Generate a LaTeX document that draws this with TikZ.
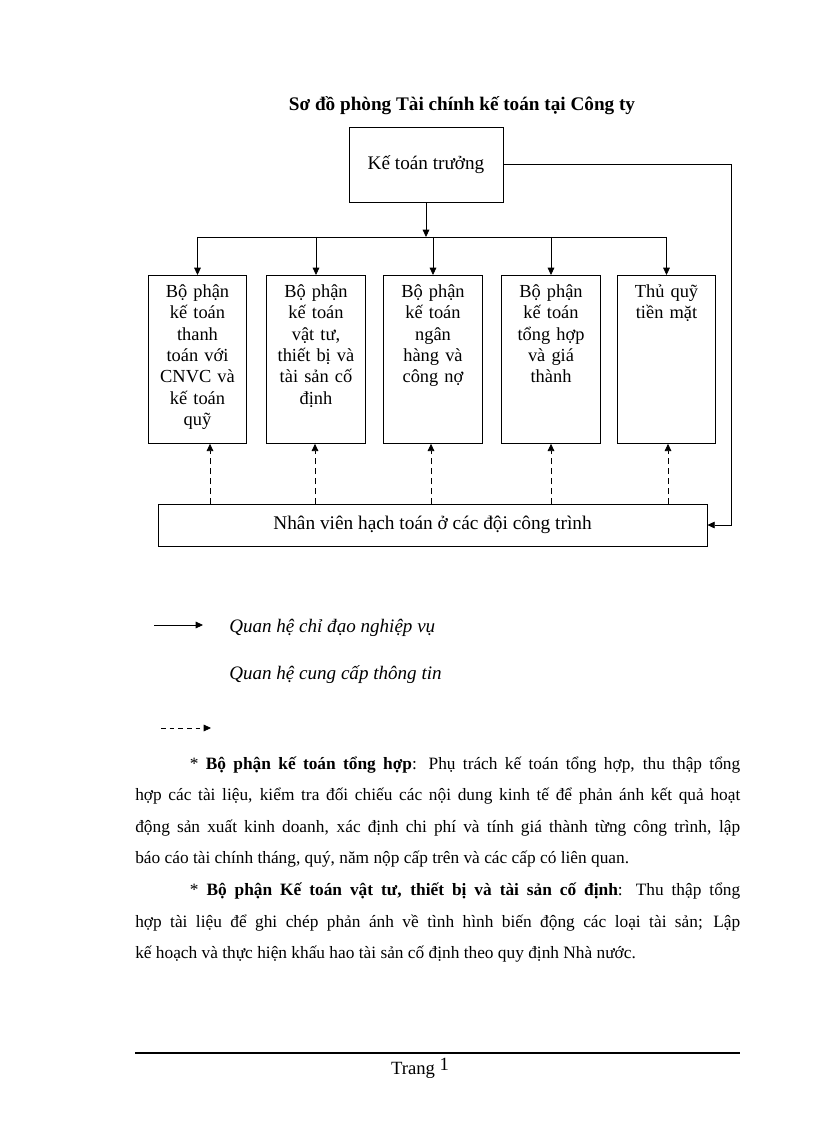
\documentclass[tikz,border=0pt]{standalone}
\usepackage{fontspec}
\setmainfont{Liberation Serif}
\usetikzlibrary{arrows.meta}

\tikzset{
  tip/.style={-{Triangle[length=5.5pt,width=5pt]}},
  lead/.style={draw,line width=0.6pt,tip},
  info/.style={draw,line width=0.6pt,dash pattern=on 4.5pt off 3pt,tip},
  dept/.style={draw,line width=0.6pt,anchor=north,text width=70pt,align=center,
    inner xsep=2pt,inner ysep=6.5pt,text height=10pt,text depth=103pt,
    font=\fontsize{13.8}{16}\selectfont},
  chief/.style={draw,line width=0.6pt,minimum width=115.5pt,minimum height=56.25pt,
    font=\fontsize{14.4}{16}\selectfont},
  staff/.style={draw,line width=0.6pt,minimum width=411.75pt,minimum height=31.5pt,
    font=\fontsize{14.5}{16}\selectfont},
  legendtext/.style={anchor=west,inner sep=0pt,font=\fontsize{14.3}{16}\selectfont\itshape},
  bodytext/.style={anchor=base west,inner sep=0pt,text width=453.75pt,align=justify,
    font=\fontsize{13}{23.7}\selectfont},
}

\begin{document}
\begin{tikzpicture}[x=0.75pt,y=-0.75pt]
  \useasboundingbox (0,0) rectangle (816,1123);
  % title
  \draw (462,106) node[font=\fontsize{14.4}{16}\selectfont\bfseries] (title) {Sơ đồ phòng Tài chính kế toán tại Công ty};
  % real nodes
  \draw (426,164.5) node[chief] (kt) {Kế toán trưởng};
  \draw (197.5,275) node[dept] (b1) {Bộ phận\\kế toán\\thanh\\toán với\\CNVC và\\kế toán\\quỹ};
  \draw (316,275) node[dept] (b2) {Bộ phận\\kế toán\\vật tư,\\thiết bị và\\tài sản cố\\định};
  \draw (433,275) node[dept] (b3) {Bộ phận\\kế toán\\ngân\\hàng và\\công nợ};
  \draw (551,275) node[dept] (b4) {Bộ phận\\kế toán\\tổng hợp\\và giá\\thành};
  \draw (666.5,275) node[dept] (b5) {Thủ quỹ\\tiền mặt};
  \draw (432.5,525) node[staff] (nv) {Nhân viên hạch toán ở các đội công trình};
  %
  % virtual nodes
  \coordinate (bus) at (426,237);
  \coordinate (busl) at (197.5,237);
  \coordinate (busr) at (666.5,237);
  \coordinate (rt) at (731,300);
  \coordinate (d1) at (210,504);
  \coordinate (d2) at (315,504);
  \coordinate (d3) at (431,504);
  \coordinate (d4) at (551,504);
  \coordinate (d5) at (668,504);
  %
  % real edges
  \draw[lead] (kt.south) -- (bus);
  \draw[line width=0.6pt] (busl) -- (busr);
  \foreach \b in {b1,b2,b3,b4,b5}
    \draw[lead] (\b.north |- bus) -- (\b.north);
  \draw[lead] (kt.east) -| (rt) |- (nv.east);
  \foreach \i in {1,...,5}
    \draw[info] (d\i) -- (d\i |- b\i.south);
  %
  % legend
  \coordinate (la) at (154,625);
  \coordinate (lb) at (203,625);
  \coordinate (lc) at (161,728);
  \coordinate (ld) at (211,728);
  \draw[lead] (la) -- (lb);
  \draw[info,dash pattern=on 3.5pt off 3pt] (lc) -- (ld);
  \draw (229,628) node[legendtext] (l1) {Quan hệ chỉ đạo nghiệp vụ};
  \draw (229,675) node[legendtext] (l2) {Quan hệ cung cấp thông tin};
  %
  % text below
  \draw (135,769) node[bodytext] (p1) {\hspace*{41pt}* \textbf{Bộ phận kế toán tổng hợp}: Phụ trách kế toán tổng hợp, thu thập tổng\linebreak
    hợp các tài liệu, kiểm tra đối chiếu các nội dung kinh tế để phản ánh kết quả hoạt\linebreak
    động sản xuất kinh doanh, xác định chi phí và tính giá thành từng công trình, lập\linebreak
    báo cáo tài chính tháng, quý, năm nộp cấp trên và các cấp có liên quan.};
  \draw (135,895.4) node[bodytext] (p2) {\hspace*{41pt}* \textbf{Bộ phận Kế toán vật tư, thiết bị và tài sản cố định}: Thu thập tổng\linebreak
    hợp tài liệu để ghi chép phản ánh về tình hình biến động các loại tài sản; Lập\linebreak
    kế hoạch và thực hiện khấu hao tài sản cố định theo quy định Nhà nước.};
  %
  % footer
  \draw[line width=1.5pt] (135,1053) -- (740,1053);
  \draw (420,1068) node[font=\fontsize{14}{16}\selectfont] (pg) {Trang \raisebox{3pt}{1}};
\end{tikzpicture}
\end{document}
